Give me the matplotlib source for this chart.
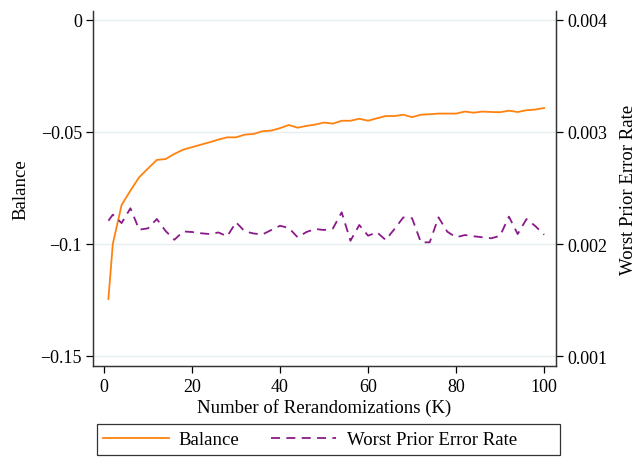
import numpy as np
import matplotlib
matplotlib.use("Agg")
import matplotlib.pyplot as plt
from matplotlib.patches import Rectangle

plt.rcParams['font.family'] = ['Liberation Serif', 'DejaVu Serif']

# number of rerandomizations
K = [1] + list(range(2, 101, 2))

balance = [-0.1246, -0.1000, -0.0826, -0.0762, -0.0702, -0.0663, -0.0625, -0.0621,
           -0.0598, -0.0579, -0.0568, -0.0557, -0.0546, -0.0534, -0.0524, -0.0524,
           -0.0512, -0.0509, -0.0497, -0.0494, -0.0483, -0.0469, -0.0481, -0.0473,
           -0.0467, -0.0458, -0.0463, -0.0450, -0.0450, -0.0441, -0.0450, -0.0439,
           -0.0429, -0.0429, -0.0423, -0.0434, -0.0423, -0.0421, -0.0418, -0.0418,
           -0.0418, -0.0409, -0.0414, -0.0409, -0.0411, -0.0412, -0.0405, -0.0411,
           -0.0403, -0.0400, -0.0393]

worst_err = [0.002208, 0.002262, 0.002187, 0.002319, 0.002128, 0.002140, 0.002223,
             0.002116, 0.002038, 0.002112, 0.002107, 0.002096, 0.002089, 0.002103,
             0.002069, 0.002194, 0.002112, 0.002094, 0.002085, 0.002125, 0.002163,
             0.002143, 0.002060, 0.002107, 0.002134, 0.002125, 0.002138, 0.002283,
             0.002029, 0.002170, 0.002074, 0.002105, 0.002036, 0.002134, 0.002237,
             0.002230, 0.002015, 0.002015, 0.002238, 0.002110, 0.002060, 0.002080,
             0.002069, 0.002060, 0.002051, 0.002074, 0.002244, 0.002089, 0.002223,
             0.002160, 0.002083]

orange = '#FF8210'
purple = '#8A1A8A'

fig = plt.figure(figsize=(6.38, 4.60), dpi=100)
ax = fig.add_axes([93/638, 1 - 367/460, (556-93)/638, (367-12)/460])
ax2 = ax.twinx()

l1, = ax.plot(K, balance, color=orange, lw=1.3, label='Balance')
l2, = ax2.plot(K, worst_err, color=purple, lw=1.3, dashes=(5, 3.5),
               label='Worst Prior Error Rate')

ax.set_xlim(-2.5, 102.7)
ax.set_ylim(-0.1545, 0.004)
ax2.set_ylim(0.000911, 0.00408)

ax.set_yticks([0, -0.05, -0.1, -0.15])
ax.set_yticklabels(['0', '\u22120.05', '\u22120.1', '\u22120.15'])
ax2.set_yticks([0.004, 0.003, 0.002, 0.001])
ax2.set_yticklabels(['0.004', '0.003', '0.002', '0.001'])
ax.set_xticks([0, 20, 40, 60, 80, 100])

# faint horizontal grid at the left ticks
for g in [0, -0.05, -0.1, -0.15]:
    ax.axhline(g, color='#e6eef0', lw=1.0, zorder=0)

for a in (ax, ax2):
    a.spines['top'].set_visible(False)
    for s in a.spines.values():
        s.set_linewidth(0.9)
        s.set_color('#333333')
    a.tick_params(labelsize=13, length=5, width=0.9, direction='out')
ax.tick_params(axis='y', pad=3)

ax.set_xlabel('Number of Rerandomizations (K)', fontsize=13.5, labelpad=2)
ax.set_ylabel('Balance', fontsize=13.5, labelpad=8)
ax2.set_ylabel('Worst Prior Error Rate', fontsize=13.5, labelpad=9)

# legend box drawn separately, entries left aligned inside it
fig.patches.append(Rectangle((97/638, 4/460), (560-97)/638, 31/460,
                             transform=fig.transFigure, fill=False,
                             edgecolor='#333333', lw=0.9))
leg = fig.legend([l1, l2], ['Balance', 'Worst Prior Error Rate'],
                 loc='center left', bbox_to_anchor=(103/638, 19.5/460),
                 ncol=2, frameon=False, fontsize=13.5, handlelength=3.5,
                 handletextpad=0.55, columnspacing=1.65, borderaxespad=0,
                 borderpad=0)

fig.savefig('out.png', dpi=100)
